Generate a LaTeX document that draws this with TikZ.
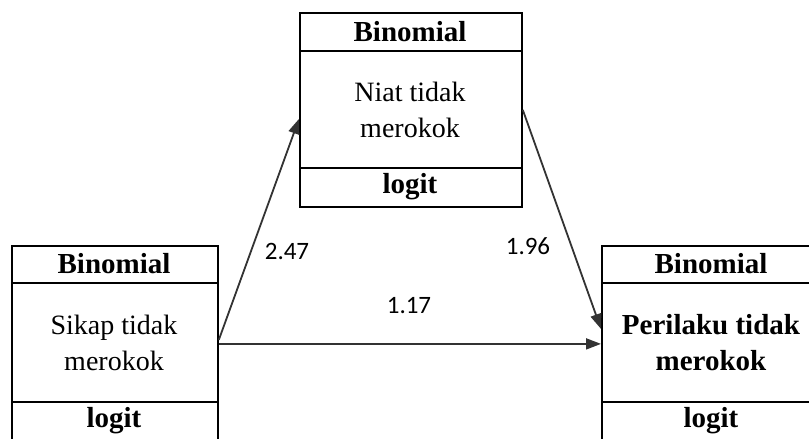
\documentclass[tikz,border=0pt]{standalone}
\usepackage{fontspec}
\setmainfont{Liberation Serif}
\newfontfamily\timesfont{Liberation Serif}
\newfontfamily\numfont{Carlito}
\usetikzlibrary{arrows.meta,calc}
\begin{document}
\begin{tikzpicture}[x=1pt,y=-1pt,
  boxframe/.style={draw, line width=1.8pt, anchor=north west, inner sep=0pt},
  sepline/.style={line width=1.8pt},
  boxtext/.style={align=center, font=\timesfont\fontsize{28}{36}\selectfont, inner sep=0pt},
  headtext/.style={font=\timesfont\fontsize{29}{36}\selectfont\bfseries, inner sep=0pt},
  effect/.style={line width=1.8pt, draw=black!80, -{Triangle[length=15pt,width=11pt]}},
  coef/.style={font=\numfont\fontsize{25}{28}\selectfont, inner sep=0pt}]
\useasboundingbox (0,0) rectangle (809,439);
\fill[white] (0,0) rectangle (809,439);
% top box
\node[boxframe, minimum width=222pt, minimum height=194pt] (niat) at (299,12) {};
\draw[sepline] (299,51) -- (521,51);
\draw[sepline] (299,168) -- (521,168);
\node[headtext] (niatH) at (410,31.5) {Binomial};
\node[boxtext] (niatT) at (410,109.5) {Niat tidak\\merokok};
\node[headtext] (niatL) at (410,187) {logit};
% left box
\node[boxframe, minimum width=206pt, minimum height=196pt] (sikap) at (11,245) {};
\draw[sepline] (11,283) -- (217,283);
\draw[sepline] (11,402) -- (217,402);
\node[headtext] (sikapH) at (114,264) {Binomial};
\node[boxtext] (sikapT) at (114,342.5) {Sikap tidak\\merokok};
\node[headtext] (sikapL) at (114,421) {logit};
% right box
\node[boxframe, minimum width=220pt, minimum height=196pt] (peri) at (601,245) {};
\draw[sepline] (601,283) -- (821,283);
\draw[sepline] (601,402) -- (821,402);
\node[headtext] (periH) at (711,264) {Binomial};
\node[boxtext, font=\timesfont\fontsize{29}{36}\selectfont\bfseries] (periT) at (711,342.5) {Perilaku tidak\\merokok};
\node[headtext] (periL) at (711,421) {logit};
% paths
\draw[effect] ($(sikap.east)+(0,-4)$) -- ($(niat.west)+(0,9)$);
\draw[effect] (niat.east) -- ($(peri.west)+(0,-15)$);
\draw[effect] (sikap.east) -- (peri.west);
% coefficients
\node[coef] (c1) at (287,251) {2.47};
\node[coef] (c2) at (528,246) {1.96};
\node[coef] (c3) at (409,306) {1.17};
\end{tikzpicture}
\end{document}
